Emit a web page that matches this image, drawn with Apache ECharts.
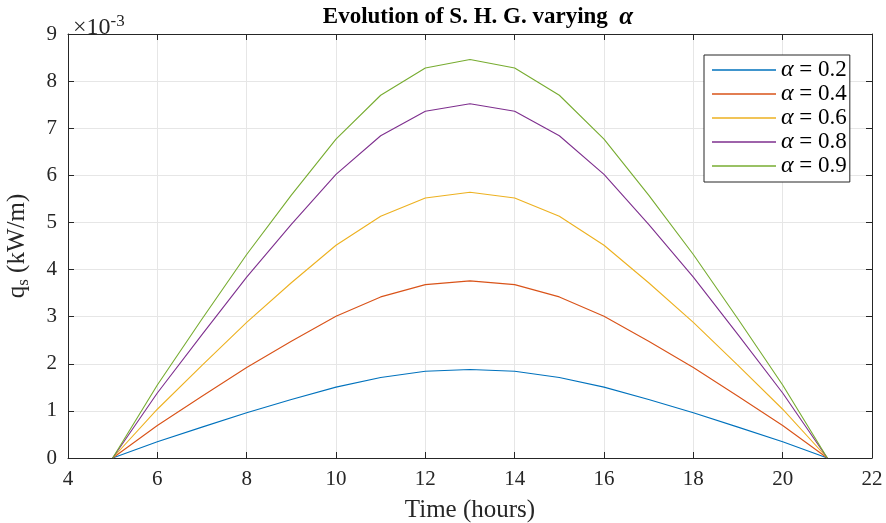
<!DOCTYPE html>
<html>
<head>
<meta charset="utf-8">
<script src="https://cdn.jsdelivr.net/npm/echarts@6/dist/echarts.min.js"></script>
<style>
  html, body { margin: 0; padding: 0; background: #fff; }
  #chart { width: 886px; height: 523px; }
</style>
</head>
<body>
<div id="chart"></div>
<script>
// Solar heat gain q_s (units of 1e-3 kW/m) versus hour of day, for several α
const hours = [5, 6, 7, 8, 9, 10, 11, 12, 13, 14, 15, 16, 17, 18, 19, 20, 21];
const alphaLabels = ['0.2', '0.4', '0.6', '0.8', '0.9'];
const qAlpha02 = [0, 0.345, 0.655, 0.96, 1.24, 1.505, 1.71, 1.84, 1.88, 1.84, 1.71, 1.505, 1.24, 0.96, 0.655, 0.345, 0];
const qAlpha04 = [0, 0.69, 1.31, 1.92, 2.48, 3.01, 3.42, 3.68, 3.76, 3.68, 3.42, 3.01, 2.48, 1.92, 1.31, 0.69, 0];
const qAlpha06 = [0, 1.035, 1.965, 2.88, 3.72, 4.515, 5.13, 5.52, 5.64, 5.52, 5.13, 4.515, 3.72, 2.88, 1.965, 1.035, 0];
const qAlpha08 = [0, 1.38, 2.62, 3.84, 4.96, 6.02, 6.84, 7.36, 7.52, 7.36, 6.84, 6.02, 4.96, 3.84, 2.62, 1.38, 0];
const qAlpha09 = [0, 1.55, 2.95, 4.32, 5.58, 6.77, 7.70, 8.28, 8.46, 8.28, 7.70, 6.77, 5.58, 4.32, 2.95, 1.55, 0];
const xTicks = [4, 6, 8, 10, 12, 14, 16, 18, 20, 22];
const yTicks = [0, 1, 2, 3, 4, 5, 6, 7, 8, 9];

const seriesValues = [qAlpha02, qAlpha04, qAlpha06, qAlpha08, qAlpha09];
const colors = ['#0072BD', '#D95319', '#EDB120', '#7E2F8E', '#77AC30'];
const FONT = '"Liberation Serif", "Times New Roman", serif';
const INK = '#262626';

const chart = echarts.init(document.getElementById('chart'), null, { renderer: 'canvas' });

const series = seriesValues.map((vals, i) => ({
  name: 'α = ' + alphaLabels[i],
  type: 'line',
  data: hours.map((h, k) => [h, vals[k]]),
  symbol: 'none',
  showSymbol: false,
  lineStyle: { color: colors[i], width: 1.1 },
  itemStyle: { color: colors[i] },
  emphasis: { disabled: true },
  animation: false,
  xAxisIndex: 0,
  yAxisIndex: 0
}));

const boxAxisX = (pos, showLabels, extra) => Object.assign({
  type: 'value',
  position: pos,
  min: xTicks[0],
  max: xTicks[xTicks.length - 1],
  interval: 2,
  axisLine: { show: true, onZero: false, lineStyle: { color: INK, width: 1 } },
  axisTick: { show: true, inside: true, length: 6, lineStyle: { color: INK } },
  axisLabel: { show: showLabels, fontFamily: FONT, fontSize: 21, color: INK, margin: 11 },
  splitLine: { show: false }
}, extra || {});

const boxAxisY = (pos, showLabels, extra) => Object.assign({
  type: 'value',
  position: pos,
  min: yTicks[0],
  max: yTicks[yTicks.length - 1],
  interval: 1,
  axisLine: { show: true, onZero: false, lineStyle: { color: INK, width: 1 } },
  axisTick: { show: true, inside: true, length: 6, lineStyle: { color: INK } },
  axisLabel: { show: showLabels, fontFamily: FONT, fontSize: 21, color: INK, margin: 11 },
  splitLine: { show: false }
}, extra || {});

chart.setOption({
  backgroundColor: '#ffffff',
  animation: false,
  title: [
    {
      text: 'Evolution of S. H. G. varying  {a|α}',
      left: 473,
      top: 0,
      textAlign: 'center',
      textStyle: {
        fontFamily: FONT, fontSize: 23, fontWeight: 'bold', color: '#000',
        rich: { a: { fontFamily: FONT, fontSize: 25, fontWeight: 'bold', fontStyle: 'italic', color: '#000' } }
      }
    },
    {
      text: '×10{s|-3}',
      left: 68,
      top: 8,
      textStyle: {
        fontFamily: FONT, fontSize: 24, fontWeight: 'normal', color: INK,
        rich: { s: { fontFamily: FONT, fontSize: 17, color: INK, verticalAlign: 'top', padding: [0, 0, 12, 0] } }
      }
    }
  ],
  legend: {
    left: 704,
    top: 55,
    orient: 'vertical',
    icon: 'rect',
    backgroundColor: '#ffffff',
    borderColor: INK,
    borderWidth: 1,
    borderRadius: 0,
    padding: [3, 3, 4, 8],
    itemWidth: 64,
    itemHeight: 1.5,
    itemGap: 0,
    data: series.map(s => s.name),
    formatter: name => '{i|α} = ' + name.split('= ')[1],
    textStyle: {
      fontFamily: FONT, fontSize: 23, color: '#000', lineHeight: 24,
      rich: { i: { fontFamily: FONT, fontSize: 24, fontStyle: 'italic', color: '#000', lineHeight: 24 } }
    }
  },
  grid: { left: 68, right: 14, top: 34, bottom: 65, containLabel: false, outerBoundsMode: 'none' },
  xAxis: [
    boxAxisX('bottom', true, {
      name: 'Time (hours)',
      nameLocation: 'middle',
      nameGap: 40,
      nameTextStyle: { fontFamily: FONT, fontSize: 25, color: INK },
      splitLine: { show: true, lineStyle: { color: '#e6e6e6', width: 1 } }
    }),
    boxAxisX('top', false)
  ],
  yAxis: [
    boxAxisY('left', true, {
      name: '{q|q}{s|s} (kW/m)',
      nameLocation: 'middle',
      nameGap: 36,
      nameRotate: 90,
      nameTextStyle: {
        fontFamily: FONT, fontSize: 25, color: INK,
        rich: {
          q: { fontFamily: FONT, fontSize: 25, color: INK },
          s: { fontFamily: FONT, fontSize: 17, color: INK, verticalAlign: 'bottom', padding: [12, 0, 0, 0] }
        }
      },
      splitLine: { show: true, lineStyle: { color: '#e6e6e6', width: 1 } }
    }),
    boxAxisY('right', false)
  ],
  series: series
});
</script>
</body>
</html>
